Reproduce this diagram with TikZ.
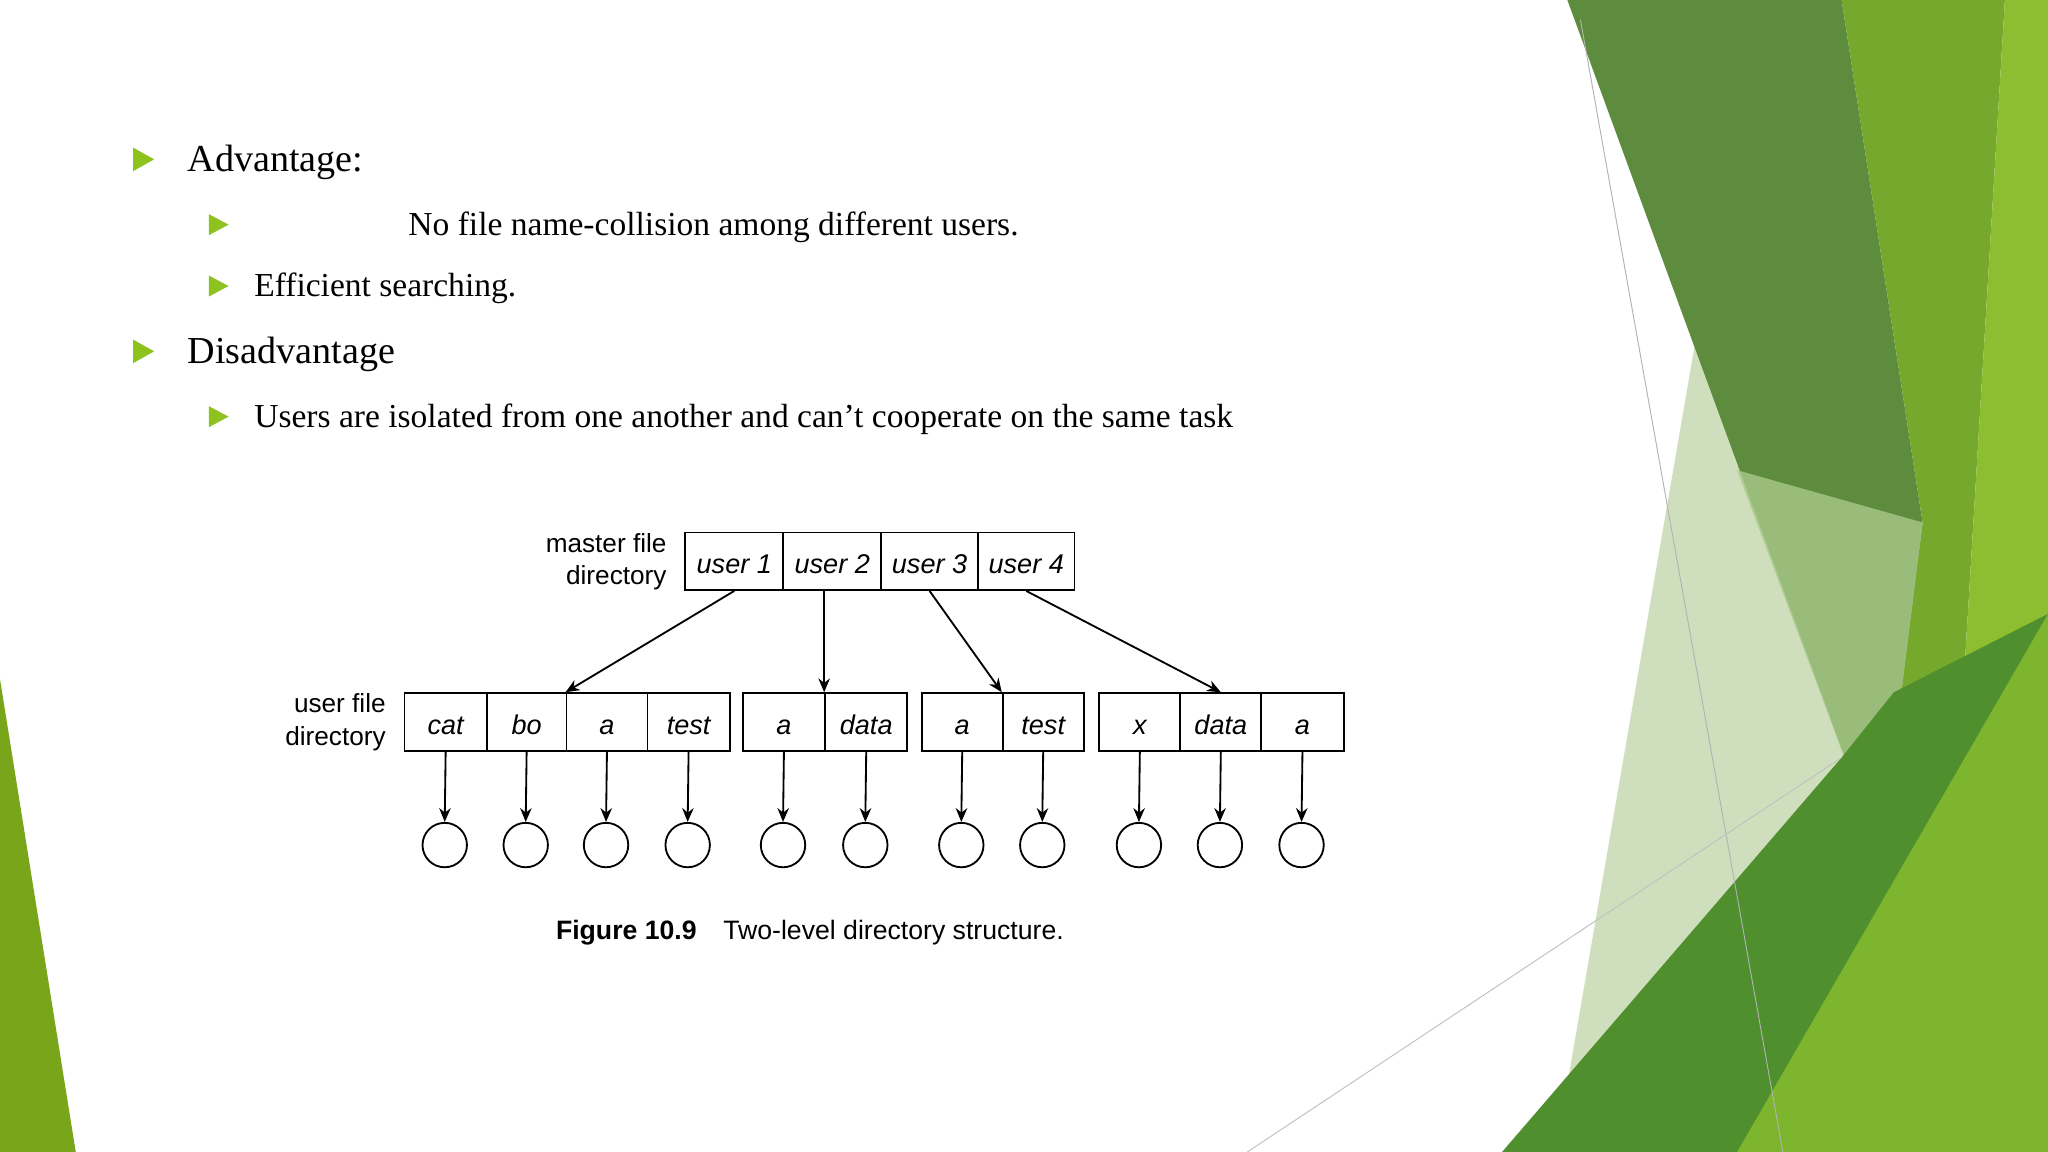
\documentclass[tikz,border=0pt]{standalone}
\usepackage{fontspec}
\setmainfont{Liberation Serif}
\newfontfamily\dsans{Liberation Sans}
\usetikzlibrary{arrows.meta}
\definecolor{bgreen}{HTML}{8DC21F}
\definecolor{ga}{HTML}{5E8C3E}
\definecolor{gb}{HTML}{77A82E}
\definecolor{gc}{HTML}{8DBE32}
\definecolor{gd}{HTML}{A9C98A}
\definecolor{ge}{HTML}{4F8F2E}
\definecolor{gf}{HTML}{7DB52E}
\definecolor{gp}{HTML}{CFDFBE}
\begin{document}
\begin{tikzpicture}[x=0.01cm,y=-0.01cm,
  cell/.style={draw,thin,minimum height=0.44cm,inner sep=0pt,text height=1.5ex,text depth=0.3ex,font=\dsans\itshape\fontsize{5.9}{7}\selectfont,anchor=north west},
  leaf/.style={draw,thin,circle,minimum size=0.34cm,inner sep=0pt},
  arr/.style={-{Stealth[length=3pt,width=2.5pt]},thin},
  bul/.style={fill=bgreen},
  txt/.style={anchor=west,inner sep=0pt}]
\useasboundingbox (0,0) rectangle (1568,882);
\fill[white] (0,0) rectangle (1568,882);
% decoration
\fill[bgreen!85!black] (0,520) -- (58,882) -- (0,882) -- cycle;
\fill[gp] (1300,250) -- (1440,650) -- (1420,760) -- (1200,830) -- cycle;
\fill[ga] (1200,0) -- (1410,0) -- (1472,400) -- (1440,655) -- cycle;
\fill[gb] (1410,0) -- (1535,0) -- (1500,580) -- (1440,655) -- (1472,400) -- cycle;
\fill[gc] (1535,0) -- (1568,0) -- (1568,470) -- (1500,580) -- cycle;
\fill[gd,opacity=0.8] (1330,360) -- (1472,400) -- (1440,655) -- cycle;
\fill[ge] (1150,882) -- (1410,580) -- (1450,530) -- (1568,470) -- (1568,882) -- cycle;
\fill[gf] (1330,882) -- (1568,470) -- (1568,882) -- cycle;
\draw[gray!60,very thin] (1210,15) -- (1365,882);
\draw[gray!50,very thin] (955,882) -- (1410,580);
% bullets
\foreach \y in {122,269} \fill[bul] (102,\y-9) -- (118,\y) -- (102,\y+9) -- cycle;
\foreach \y in {172,219,319} \fill[bul] (160,\y-8) -- (175,\y) -- (160,\y+8) -- cycle;
\node[txt,font=\fontsize{8.3}{10}\selectfont] (t1) at (143,124) {Advantage:};
\node[txt,font=\fontsize{7.3}{9}\selectfont] (t2) at (312,174) {No file name-collision among different users.};
\node[txt,font=\fontsize{7.3}{9}\selectfont] (t3) at (194,221) {Efficient searching.};
\node[txt,font=\fontsize{8.3}{10}\selectfont] (t4) at (143,271) {Disadvantage};
\node[txt,font=\fontsize{7.3}{9}\selectfont] (t5) at (194,321) {Users are isolated from one another and can’t cooperate on the same task};
% master
\foreach \n/\a/\b/\t in {u1/524/599/user 1,u2/599/674/user 2,u3/674/748/user 3,u4/748/822/user 4}
  {\pgfmathsetmacro\w{(\b-\a)*0.01}\node[cell,minimum width=\w cm] (\n) at (\a,407) {\t};}
\node[anchor=east,align=right,font=\dsans\fontsize{5.7}{7}\selectfont,inner sep=0pt] (ml) at (511,430) {master file\\directory};
\node[anchor=east,align=right,font=\dsans\fontsize{5.7}{7}\selectfont,inner sep=0pt] (ul) at (296,553) {user file\\directory};
% user cells
\foreach \n/\a/\b/\t in {c1/309/372/cat,c2/372/433/bo,c3/433/495/a,c4/495/558/test,
  c5/568/631/a,c6/631/694/data,c7/705/767/a,c8/767/829/test,c9/841/903/x,c10/903/965/data,c11/965/1028/a}
  {\pgfmathsetmacro\w{(\b-\a)*0.01}
   \node[cell,minimum width=\w cm] (\n) at (\a,530) {\t};
   \node[leaf] (l\n) at ({(\a+\b)/2},647) {};
   \draw[arr] (\n.south) -- (l\n.north);}
\draw[arr] (u1.south) -- (c3.north west);
\draw[arr] (u2.south -| c6.north west) -- (c6.north west);
\draw[arr] (u3.south) -- (c8.north west);
\draw[arr] (u4.south) -- (c10.north);
\node[anchor=west,inner sep=0pt,font=\dsans\fontsize{5.8}{7}\selectfont] (cap) at (425,714) {\textbf{Figure 10.9}\quad Two-level directory structure.};
\end{tikzpicture}
\end{document}
